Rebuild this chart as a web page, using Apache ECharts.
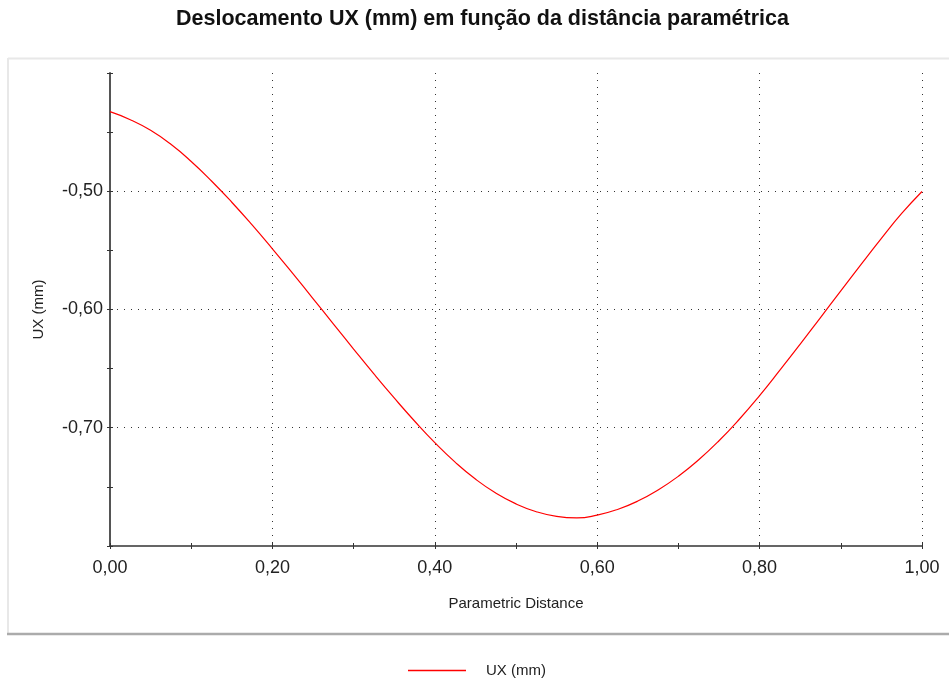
<!DOCTYPE html>
<html>
<head>
<meta charset="utf-8">
<title>Deslocamento UX</title>
<script src="https://cdn.jsdelivr.net/npm/echarts@6/dist/echarts.min.js"></script>
<style>
  html, body { margin: 0; padding: 0; background: #fff; }
  #chart { width: 949px; height: 681px; }
</style>
</head>
<body>
<div id="chart"></div>
<script>
// distancia parametrica (0..1) e deslocamento UX em mm
var distancias = [0, 0.025, 0.05, 0.075, 0.1, 0.125, 0.15, 0.175, 0.2, 0.225,
  0.25, 0.275, 0.3, 0.325, 0.35, 0.375, 0.4, 0.425, 0.45, 0.475,
  0.5, 0.525, 0.55, 0.575, 0.6, 0.625, 0.65, 0.675, 0.7, 0.725,
  0.75, 0.775, 0.8, 0.825, 0.85, 0.875, 0.9, 0.925, 0.95, 0.975, 1];
var valoresUX = [-0.4327, -0.4395, -0.4485, -0.4603, -0.4748, -0.4913, -0.5093, -0.5285, -0.5487, -0.5695,
  -0.5907, -0.6121, -0.6335, -0.6545, -0.6748, -0.6943, -0.7126, -0.7291, -0.7434, -0.7552,
  -0.7644, -0.7710, -0.7750, -0.7763, -0.7739, -0.7691, -0.7620, -0.7526, -0.7410, -0.7271,
  -0.7110, -0.6928, -0.6728, -0.6513, -0.6293, -0.6068, -0.5842, -0.5618, -0.5398, -0.5188, -0.5002];
var xTicks = [0, 0.2, 0.4, 0.6, 0.8, 1];
var yTicks = [-0.5, -0.6, -0.7];

var pontos = [];
for (var i = 0; i < distancias.length; i++) {
  pontos.push([distancias[i], valoresUX[i]]);
}

function virgula(v) {
  return v.toFixed(2).replace('.', ',');
}

var chart = echarts.init(document.getElementById('chart'));
var fonte = '"Liberation Sans", Arial, sans-serif';
var semCor = 'rgba(0,0,0,0)';

chart.setOption({
  animation: false,
  backgroundColor: '#fff',
  textStyle: { fontFamily: fonte },
  title: {
    text: 'Deslocamento UX (mm) em função da distância paramétrica',
    left: 176,
    top: 8,
    padding: 0,
    textStyle: { fontSize: 21.5, fontWeight: 'bold', color: '#111', fontFamily: fonte }
  },
  graphic: [
    { type: 'line', shape: { x1: 8, y1: 58.5, x2: 949, y2: 58.5 }, style: { stroke: '#e8e8e8', lineWidth: 2 } },
    { type: 'line', shape: { x1: 8, y1: 58, x2: 8, y2: 634 }, style: { stroke: '#e8e8e8', lineWidth: 2 } },
    { type: 'line', shape: { x1: 7, y1: 634, x2: 949, y2: 634 }, style: { stroke: '#ababab', lineWidth: 2.5 } }
  ],
  legend: {
    left: 408,
    top: 663,
    padding: 0,
    icon: 'rect',
    itemWidth: 58,
    itemHeight: 1.5,
    textStyle: { fontSize: 15, color: '#222', padding: [0, 0, 0, 15] },
    data: ['UX (mm)']
  },
  grid: { left: 110, right: 27, top: 73, bottom: 135 },
  xAxis: [{
    type: 'value',
    min: 0, max: 1, interval: 0.2,
    name: 'Parametric Distance',
    nameLocation: 'middle',
    nameGap: 50,
    nameTextStyle: { fontSize: 15, color: '#222' },
    axisLine: { show: true, onZero: false, lineStyle: { color: '#333', width: 1.5 } },
    axisTick: { show: true, length: 3, lineStyle: { color: '#333' } },
    minorTick: { show: true, splitNumber: 2, length: 3, lineStyle: { color: '#333' } },
    axisLabel: {
      fontSize: 18, color: '#222', margin: 13,
      formatter: function (v) { return xTicks.indexOf(v) >= 0 ? virgula(v) : ''; }
    },
    splitLine: { show: true, lineStyle: { color: '#333', type: [1, 6], width: 1 } }
  }, {
    // ticks do lado de dentro
    type: 'value', position: 'bottom',
    min: 0, max: 1, interval: 0.2,
    axisLine: { show: false },
    axisTick: { show: true, inside: true, length: 3, lineStyle: { color: '#333' } },
    minorTick: { show: true, splitNumber: 2, length: 3, lineStyle: { color: '#333' } },
    axisLabel: { show: false },
    splitLine: { show: false }
  }],
  yAxis: [{
    type: 'value',
    min: -0.8, max: -0.4, interval: 0.1,
    name: 'UX (mm)',
    nameLocation: 'middle',
    nameGap: 64,
    nameTextStyle: { fontSize: 15, color: '#222' },
    axisLine: { show: true, onZero: false, lineStyle: { color: '#555', width: 2 } },
    axisTick: { show: true, length: 3, lineStyle: { color: '#333' } },
    minorTick: { show: true, splitNumber: 2, length: 3, lineStyle: { color: '#333' } },
    axisLabel: {
      fontSize: 18, color: '#222', margin: 7,
      formatter: function (v) {
        var r = Math.round(v * 100) / 100;
        return yTicks.indexOf(r) >= 0 ? virgula(r) : '';
      }
    },
    splitLine: {
      show: true,
      lineStyle: { color: [semCor, '#333', '#333', '#333', semCor], type: [1, 6], width: 1 }
    }
  }, {
    type: 'value', position: 'left',
    min: -0.8, max: -0.4, interval: 0.1,
    axisLine: { show: false },
    axisTick: { show: true, inside: true, length: 3, lineStyle: { color: '#333' } },
    minorTick: { show: true, splitNumber: 2, length: 3, lineStyle: { color: '#333' } },
    axisLabel: { show: false },
    splitLine: { show: false }
  }],
  series: [{
    name: 'UX (mm)',
    type: 'line',
    data: pontos,
    smooth: true,
    symbol: 'none',
    lineStyle: { color: '#ff0000', width: 1.2 },
    itemStyle: { color: '#ff0000' }
  }]
});
</script>
</body>
</html>
